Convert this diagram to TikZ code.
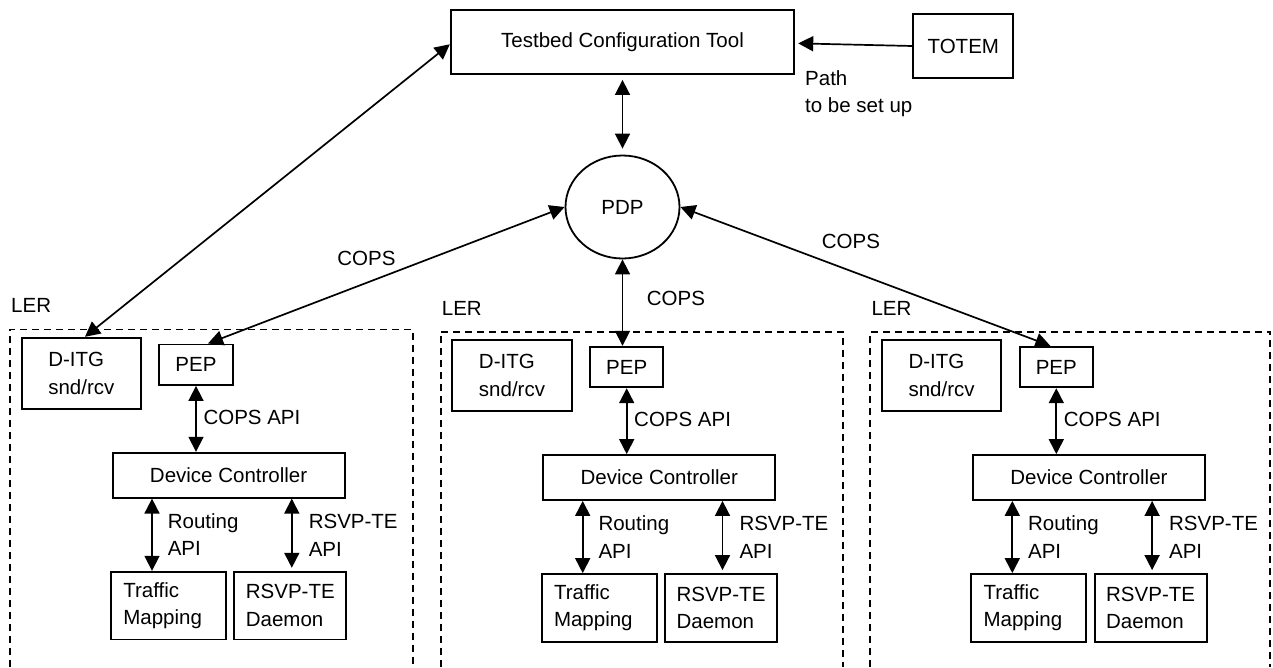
\documentclass[tikz,border=0pt]{standalone}
\usepackage{fontspec}
\setmainfont{Liberation Sans}
\usetikzlibrary{arrows.meta,shapes.geometric}
\tikzset{
  box/.style={draw,line width=1.8pt,inner sep=6pt},
  lbl/.style={inner sep=0pt},
  lerbox/.style={line width=1.7pt,dash pattern=on 7pt off 5pt},
  dbl/.style={line width=1.7pt,{Triangle[length=15pt,width=15pt]}-{Triangle[length=15pt,width=15pt]}},
  sgl/.style={line width=1.7pt,-{Triangle[length=15pt,width=15pt]}}
}
\newcommand{\lerpanel}[4]{%
  \draw[lerbox] (#2,667) -- (#2,#3) -- ({#2+#4},#3) -- ({#2+#4},667);
  \node[lbl,anchor=west] (ler#1) at ({#2+1},{#3-23.7}) {LER};
  \node[box,minimum width=119.4pt,minimum height=71pt,align=left] (dit#1) at ({#2+71.3},{#3+43.8}) {D-ITG\\snd/rcv};
  \node[box,minimum width=73.3pt,minimum height=40.6pt] (pep#1) at ({#2+186},{#3+35.3}) {PEP};
  \node[box,minimum width=232pt,minimum height=45pt] (dc#1) at ({#2+218.6},{#3+145.8}) {Device Controller};
  \node[box,minimum width=115pt,minimum height=67.7pt,text width=90.4pt,inner xsep=12.3pt,align=left] (tm#1) at ({#2+158.5},{#3+276.15}) {Traffic\\Mapping};
  \node[box,minimum width=112pt,minimum height=67.7pt,align=left] (rd#1) at ({#2+280.3},{#3+276.15}) {RSVP-TE\\Daemon};
  \draw[dbl] (pep#1.south) -- (pep#1.south |- dc#1.north);
  \coordinate (ra#1) at ([xshift=-16.5pt]tm#1.north);
  \draw[dbl] (ra#1 |- dc#1.south) -- (ra#1);
  \coordinate (rb#1) at ([xshift=1.5pt,yshift=3pt]rd#1.north);
  \draw[dbl] (rb#1 |- dc#1.south) -- (rb#1);
  \node[lbl,anchor=west] (copsapi#1) at ({#2+193.3},{#3+87.6}) {COPS API};
  \node[lbl,anchor=west,align=left] (routing#1) at ({#2+157.6},{#3+205.3}) {Routing\\API};
  \node[lbl,anchor=west,align=left] (rsvpapi#1) at ({#2+298.6},{#3+205.8}) {RSVP-TE\\API};
}
\begin{document}
\begin{tikzpicture}[x=1pt,y=-1pt,font=\fontsize{20.5}{27.5}\selectfont]
\useasboundingbox (0,0) rectangle (1273,667);
\node[box,minimum width=343.6pt,minimum height=64pt] (tct) at (622.5,42) {Testbed Configuration Tool};
\node[box,minimum width=100pt,minimum height=64pt] (totem) at (963.3,46) {TOTEM};
\node[draw,ellipse,line width=1.8pt,minimum width=114pt,minimum height=103pt,inner sep=0pt] (pdp) at (622.5,207) {PDP};
\node[lbl,anchor=west,align=left] (path) at (805,93.8) {Path\\to be set up};
\node[lbl] (cops1) at (366.4,258.3) {COPS};
\node[lbl] (cops2) at (675.9,298.3) {COPS};
\node[lbl] (cops3) at (850.9,241.7) {COPS};
\lerpanel{1}{10}{329.4}{403.3}
\lerpanel{2}{440.7}{331.7}{402.6}
\lerpanel{3}{870.3}{331.7}{400}
\draw[sgl,shorten >=3pt] (totem.west) -- ([yshift=-1.3pt]tct.east);
\draw[dbl,shorten <=5pt,shorten >=6pt] (tct.south) -- (pdp.north);
\draw[dbl] (pdp.south) -- (pdp.south |- pep2.north);
\draw[dbl] ([yshift=-2.3pt]tct.west) -- ([xshift=3.7pt]dit1.north);
\draw[dbl] (pdp.west) -- ([xshift=12pt]pep1.north);
\draw[dbl] (pdp.east) -- ([xshift=-6pt]pep3.north);
\end{tikzpicture}
\end{document}
